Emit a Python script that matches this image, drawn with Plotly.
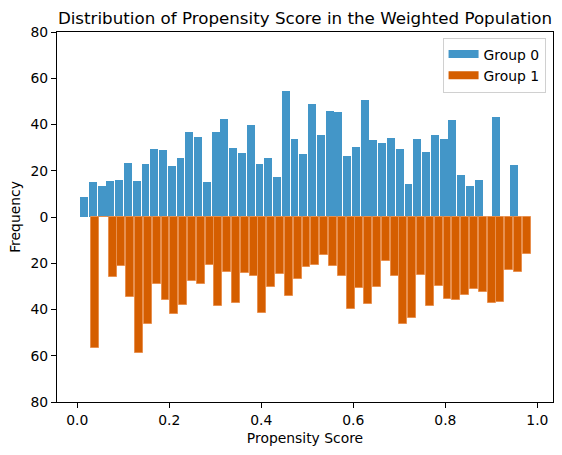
import numpy as np
import plotly.graph_objects as go

# Histogram bin ranges (propensity score) for each group, 50 bins each
group0_range = (0.0052, 0.9487 + 0.0095)
group1_range = (0.0289, 0.9866)
n_bins = 50

group0_counts = [8.7, 15.2, 13.4, 15.6, 16.0, 23.4, 15.6, 23.0, 29.5, 29.1,
                 22.1, 25.6, 36.9, 34.7, 15.2, 36.9, 42.5, 29.9, 27.8, 39.9,
                 23.0, 25.6, 17.3, 54.6, 33.8, 27.3, 49.0, 35.6, 46.0, 45.5,
                 26.5, 30.4, 50.7, 33.4, 32.1, 34.3, 29.5, 14.3, 33.8, 28.2,
                 35.6, 33.8, 42.1, 18.2, 13.4, 16.0, 0.0, 43.4, 0.0, 22.5]

group1_counts = [56.8, 0.0, 26.0, 21.2, 34.7, 59.0, 46.4, 29.1, 36.0, 42.1,
                 38.2, 27.8, 29.1, 20.8, 38.6, 23.9, 37.3, 24.3, 25.6, 41.6,
                 30.4, 24.7, 34.3, 26.9, 21.7, 20.8, 16.5, 21.2, 25.6, 39.9,
                 30.8, 37.7, 30.4, 19.1, 25.6, 46.4, 43.8, 25.2, 38.6, 29.9,
                 35.6, 36.0, 33.8, 31.2, 32.5, 37.3, 36.9, 23.0, 23.9, 16.0]

group_names = ["Group 0", "Group 1"]
y_ticks = [-80, -60, -40, -20, 0, 20, 40, 60, 80]
x_ticks = [0.0, 0.2, 0.4, 0.6, 0.8, 1.0]

BLUE = "#4396C8"
ORANGE = "#D55E00"


def centers(rng, n):
    edges = np.linspace(rng[0], rng[1], n + 1)
    return (edges[:-1] + edges[1:]) / 2, edges[1] - edges[0]


x0, w0 = centers(group0_range, n_bins)
x1, w1 = centers(group1_range, n_bins)

fig = go.Figure()
fig.add_trace(go.Bar(
    x=x0, y=group0_counts, width=w0 * 0.9, name=group_names[0],
    marker=dict(color=BLUE, line=dict(width=0)), showlegend=False,
))
fig.add_trace(go.Bar(
    x=x1, y=[-v for v in group1_counts], width=w1 * 0.9, name=group_names[1],
    marker=dict(color=ORANGE, line=dict(color="#E8904F", width=1)),
    showlegend=False,
))
# legend-only entries drawn as wide rectangular patches
for name, col in zip(group_names, [BLUE, ORANGE]):
    fig.add_trace(go.Scatter(
        x=[None], y=[None], mode="lines", name=name,
        line=dict(color=col, width=8), hoverinfo="skip",
    ))

font = "DejaVu Sans, Verdana, sans-serif"
fig.update_layout(
    width=562, height=455,
    margin=dict(l=57, r=9, t=32, b=53),
    barmode="overlay",
    plot_bgcolor="white", paper_bgcolor="white",
    font=dict(family=font, size=13.9, color="black"),
    title=dict(text="Distribution of Propensity Score in the Weighted Population",
               x=0.5, xref="paper", xanchor="center",
               y=1 - 18 / 455, yref="container", yanchor="middle",
               font=dict(size=16.7, color="black")),
    showlegend=True,
    legend=dict(x=0.985, y=0.985, xanchor="right", yanchor="top",
                bgcolor="white", bordercolor="#d0d0d0", borderwidth=1,
                font=dict(size=13.9), tracegroupgap=2, itemwidth=30),
    bargap=0,
)
fig.update_xaxes(
    range=[-0.0441, 1.034], tickvals=x_ticks,
    ticktext=[f"{t:.1f}" for t in x_ticks],
    ticks="outside", ticklen=5, tickwidth=1, tickcolor="black",
    showline=True, linecolor="black", linewidth=1, mirror=True,
    showgrid=False, zeroline=False,
    title=dict(text="Propensity Score", standoff=6, font=dict(size=13.9)),
)
fig.update_yaxes(
    range=[-80, 80], tickvals=y_ticks,
    ticktext=[str(abs(t)) for t in y_ticks],
    ticks="outside", ticklen=5, tickwidth=1, tickcolor="black",
    showline=True, linecolor="black", linewidth=1, mirror=True,
    showgrid=False, zeroline=False,
    title=dict(text="Frequency", standoff=6, font=dict(size=13.9)),
)

fig.write_html("out.html")
